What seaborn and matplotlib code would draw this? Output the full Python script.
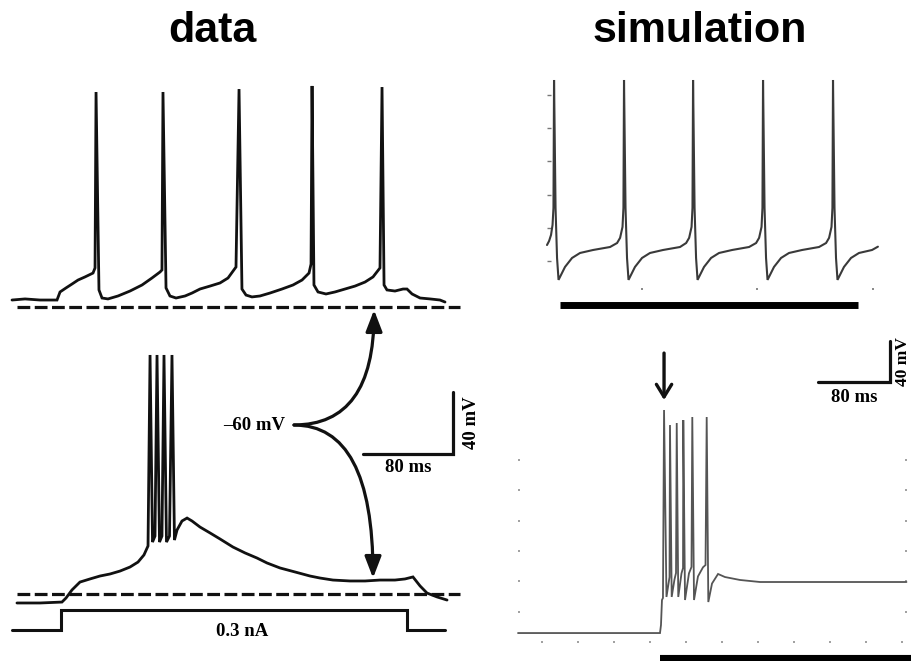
import matplotlib
matplotlib.use("Agg")
import matplotlib.pyplot as plt
import seaborn as sns

sns.set_style("white")
plt.rcParams["font.family"] = ["Liberation Serif", "DejaVu Serif"]
plt.rcParams["text.color"] = "black"

# ---------------- recorded traces (time in ms, membrane potential in mV) ----------------
# tonic firing, recorded
rec_top_t = [0, 11.6, 24.9, 40.0, 42.7, 48.0, 53.3, 58.7, 64.9, 72.0, 73.8, 74.7, 77.3, 80.0,
             85.3, 94.2, 104.9, 115.6, 124.4, 131.6, 133.3, 134.2, 136.9, 140.4, 145.8, 153.8,
             160.0, 167.1, 176.0, 184.9, 192.0, 199.1, 201.8, 204.4, 208.0, 213.3, 220.4, 229.3,
             240.0, 249.8, 257.8, 264.0, 265.8, 266.7, 268.4, 272.0, 279.1, 287.1, 296.0, 304.9,
             313.8, 320.9, 327.1, 328.9, 330.7, 333.3, 340.4, 347.6, 351.1, 355.6, 362.7, 371.6,
             380.4, 384.9]
rec_top_v = [-55.5, -54.8, -55.5, -55.5, -50.3, -47.7, -45.2, -42.6, -40.6, -38.1, -34.8, 78.7,
             -49.0, -54.2, -54.8, -52.9, -49.7, -45.8, -41.3, -37.4, -36.1, 78.7, -47.7, -52.9,
             -54.2, -52.9, -51.0, -48.4, -46.5, -44.5, -41.3, -34.2, 80.6, -48.4, -52.3, -53.5,
             -52.9, -51.0, -48.4, -45.8, -42.6, -38.1, -32.3, 82.6, -45.8, -50.3, -51.6, -50.3,
             -48.4, -46.5, -43.9, -40.6, -34.8, 81.9, -45.8, -49.0, -49.7, -48.4, -48.4, -51.6,
             -54.2, -54.8, -55.5, -56.8]

# burst firing, recorded
rec_bot_t = [4.4, 24.9, 44.4, 48.0, 53.3, 60.4, 69.3, 78.2, 87.1, 96.0, 104.9, 112.0, 117.3,
             120.9, 122.7, 124.9, 127.1, 128.9, 131.1, 133.3, 135.1, 137.3, 140.0, 142.2, 144.4,
             146.7, 151.1, 155.6, 160.0, 167.1, 176.0, 184.9, 196.4, 207.1, 217.8, 226.7, 238.2,
             251.6, 264.9, 273.8, 285.3, 300.4, 313.8, 327.1, 340.4, 349.3, 356.4, 362.7, 368.9,
             377.8, 386.7]
rec_bot_v = [-65.8, -65.8, -65.2, -62.6, -57.4, -52.3, -50.3, -48.4, -47.1, -45.2, -42.6, -39.4,
             -34.8, -29.0, 94.2, -26.5, -22.6, 94.2, -26.5, -22.6, 94.2, -26.5, -22.6, 94.2, -25.2,
             -18.7, -12.9, -11.0, -12.9, -16.8, -20.6, -24.5, -29.7, -33.5, -36.8, -40.0, -43.2,
             -45.8, -48.4, -49.7, -51.0, -51.6, -51.6, -51.0, -51.0, -50.3, -49.0, -54.8, -59.4,
             -61.9, -63.9]

# injected current step (nA)
stim_t = [0, 43.6, 43.6, 351.0, 351.0, 384.9]
stim_i = [0, 0, 0.3, 0.3, 0, 0]

# ---------------- simulated traces ----------------
sim_top_t = [17.7, 19.5, 21.2, 22.5, 23.3, 23.8, 25.1, 26.4, 27.7, 33.3, 39.4, 46.3, 57.6, 72.3,
             78.4, 81.0, 83.1, 83.9, 84.4, 85.7, 87.0, 88.3, 93.9, 100.0, 106.9, 118.2, 132.9,
             138.2, 140.8, 142.9, 143.7, 144.2, 145.5, 146.8, 148.1, 153.7, 159.8, 166.7, 178.0,
             192.7, 198.8, 201.4, 203.5, 204.3, 204.8, 206.1, 207.4, 208.7, 214.3, 220.4, 227.3,
             238.6, 253.3, 259.4, 262.0, 264.1, 264.9, 265.4, 266.7, 268.0, 269.3, 274.9, 281.0,
             287.9, 299.2, 304.3]
sim_top_v = [-50.4, -48.0, -44.3, -38.3, -28.0, 49.0, -28.0, -58.2, -71.4, -63.6, -58.2, -55.2,
             -53.4, -51.6, -49.2, -46.1, -39.5, -28.0, 49.0, -28.0, -58.2, -71.4, -63.6, -58.2,
             -55.2, -53.4, -51.6, -49.2, -46.1, -39.5, -28.0, 49.0, -28.0, -58.2, -71.4, -63.6,
             -58.2, -55.2, -53.4, -51.6, -49.2, -46.1, -39.5, -28.0, 49.0, -28.0, -58.2, -71.4,
             -63.6, -58.2, -55.2, -53.4, -51.6, -49.2, -46.1, -39.5, -28.0, 49.0, -28.0, -58.2,
             -71.4, -63.6, -58.2, -55.2, -53.4, -51.4]

sim_bot_t = [13.3, 171.1, 172.2, 173.3, 174.4, 175.6, 178.3, 181.7, 182.2, 184.1, 187.2, 188.9,
             189.7, 191.4, 195.0, 196.7, 197.0, 198.9, 203.3, 206.1, 207.0, 208.9, 213.3, 218.9,
             221.7, 223.0, 224.8, 228.9, 235.6, 243.3, 260.0, 282.2, 301.1, 326.7, 445.0]
sim_bot_v = [-80.7, -80.7, -72.8, -48.2, -46.2, 138.7, -45.2, -25.6, 123.9, -45.2, -28.0, -21.6,
             125.9, -45.2, -22.0, -16.7, 128.8, -48.2, -22.0, -15.7, 131.8, -48.2, -25.0, -16.0,
             -13.8, 131.8, -50.2, -32.0, -22.6, -25.6, -28.5, -30.5, -30.5, -30.5, -30.5]

REST_MV = -60
SCALE_MS, SCALE_MV = 80, 40

W, H = 912, 661
fig = plt.figure(figsize=(W / 100, H / 100), dpi=100)


def axes_px(x0, y0, x1, y1):
    return fig.add_axes([x0 / W, 1 - y1 / H, (x1 - x0) / W, (y1 - y0) / H])


def trace(ax, t, v, color, lw):
    sns.lineplot(x=t, y=v, ax=ax, color=color, lw=lw, sort=False, estimator=None,
                 legend=False)
    for ln in ax.lines:
        ln.set_clip_on(False)
        ln.set_solid_joinstyle("miter")


dash = (0, (4, 1.4))

# ---- recorded, tonic ----
ax_lt = axes_px(0, 70, 470, 320)
trace(ax_lt, rec_top_t, rec_top_v, "#111111", 2.0)
ax_lt.hlines(REST_MV, 4.4, 398.2, colors="#111111", linestyles=dash, lw=2.3)
ax_lt.set_xlim(-10.67, 407.1)
ax_lt.set_ylim(-68.39, 92.9)
ax_lt.set_axis_off()

# ---- recorded, burst ----
ax_lb = axes_px(0, 340, 470, 615)
trace(ax_lb, rec_bot_t, rec_bot_v, "#111111", 2.0)
ax_lb.hlines(REST_MV, 4.4, 398.2, colors="#111111", linestyles=dash, lw=2.3)
ax_lb.set_xlim(-10.67, 407.1)
ax_lb.set_ylim(-73.55, 103.87)
ax_lb.set_axis_off()
# scale bar
cx, cy = 392, 30.3
ax_lb.plot([cx - SCALE_MS, cx, cx], [cy, cy, cy + SCALE_MV], color="#111111", lw=2.3,
           solid_joinstyle="miter", clip_on=False)
ax_lb.text(cx - SCALE_MS / 2, cy - 9, f"{SCALE_MS} ms", ha="center", va="center",
           fontsize=13.5, fontweight="bold")
ax_lb.text(cx + 16, cy + SCALE_MV / 2, f"{SCALE_MV} mV", ha="center", va="center",
           rotation=90, fontsize=13.5, fontweight="bold")

# ---- current step ----
ax_i = axes_px(0, 600, 470, 640)
trace(ax_i, stim_t, stim_i, "#111111", 2.2)
ax_i.set_xlim(-10.67, 407.1)
ax_i.set_ylim(-0.15, 0.45)
ax_i.set_axis_off()
ax_i.text(204.4, -0.03, "0.3 nA", ha="center", va="center", fontsize=13.5, fontweight="bold")

# ---- simulated, tonic ----
ax_rt = axes_px(547, 79, 880, 290)
trace(ax_rt, sim_top_t, sim_top_v, "#3a3a3a", 1.5)
ax_rt.set_xlim(17.7, 306.1)
ax_rt.set_ylim(-77.5, 49.6)
ax_rt.set_xticks([100, 200, 300])
ax_rt.set_yticks([-60, -40, -20, 0, 20, 40])
for s in ax_rt.spines.values():
    s.set_visible(False)
ax_rt.tick_params(axis="y", left=True, direction="in", length=2.6, width=1.0, color="#777777",
                  labelleft=False)
ax_rt.tick_params(axis="x", bottom=True, direction="in", length=1.4, width=1.4,
                  color="#888888", labelbottom=False)
ax_rt.set_xlabel("")
ax_rt.set_ylabel("")
ax_rt.hlines(-0.071, 29.0, 287.0, colors="black", lw=5.0, clip_on=False,
             transform=ax_rt.get_xaxis_transform())

# ---- simulated, burst ----
ax_rb = axes_px(518, 330, 907, 643)
trace(ax_rb, sim_bot_t, sim_bot_v, "#555555", 1.3)
ax_rb.set_xlim(13.3, 445.6)
ax_rb.set_ylim(-90.5, 217.4)
ax_rb.set_xticks(list(range(40, 441, 40)))
ax_rb.set_yticks([-60, -30, 0, 30, 60, 90])
for s in ax_rb.spines.values():
    s.set_visible(False)
ax_rb.tick_params(axis="both", bottom=True, left=True, right=True, direction="in",
                  length=1.3, width=1.3, color="#999999", labelbottom=False,
                  labelleft=False)
ax_rb.set_xlabel("")
ax_rb.set_ylabel("")
ax_rb.hlines(-0.048, 171.1, 452.0, colors="black", lw=4.4, clip_on=False,
             transform=ax_rb.get_xaxis_transform())
# scale bar
sx, sy = 426.7, 166.2
ax_rb.plot([sx - SCALE_MS, sx, sx], [sy, sy, sy + SCALE_MV], color="#111111", lw=2.3,
           solid_joinstyle="miter", clip_on=False)
ax_rb.text(sx - SCALE_MS / 2, sy - 15.5, f"{SCALE_MS} ms", ha="center", va="center",
           fontsize=13.5, fontweight="bold")
ax_rb.text(sx + 14.5, sy + SCALE_MV / 2, f"{SCALE_MV} mV", ha="center", va="center",
           rotation=90, fontsize=12.5, fontweight="bold")
# first spike marker
ax_rb.annotate("", xy=(175.6, 148.5), xytext=(175.6, 194.7),
               arrowprops=dict(arrowstyle="->,head_length=0.9,head_width=0.55", lw=2.4,
                               color="#111111", mutation_scale=10, shrinkA=0, shrinkB=0))

# ---- overlay: titles, resting potential label and arrows ----
ov = axes_px(0, 0, W, H)
ov.set_xlim(0, W)
ov.set_ylim(H, 0)
ov.set_axis_off()
ov.text(212, 42, "data", ha="center", va="baseline", fontsize=31, fontweight="bold",
        family="Liberation Sans", color="black")
ov.text(700, 42, "simulation", ha="center", va="baseline", fontsize=31, fontweight="bold",
        family="Liberation Sans", color="black")
ov.text(254, 425, "\u201360 mV", ha="center", va="center", fontsize=13.5, fontweight="bold")

arrow_kw = dict(arrowstyle="-|>,head_length=1.3,head_width=0.5", lw=2.3, color="#111111",
                mutation_scale=10, shrinkA=0, shrinkB=0,
                connectionstyle="angle3,angleA=0,angleB=90")
ov.annotate("", xy=(321.8, -61.9), xycoords=ax_lt.transData, xytext=(294, 425),
            textcoords="data", arrowprops=arrow_kw)
ov.annotate("", xy=(320.9, -49.7), xycoords=ax_lb.transData, xytext=(294, 425),
            textcoords="data", arrowprops=arrow_kw)

fig.savefig("out.png", dpi=100)
